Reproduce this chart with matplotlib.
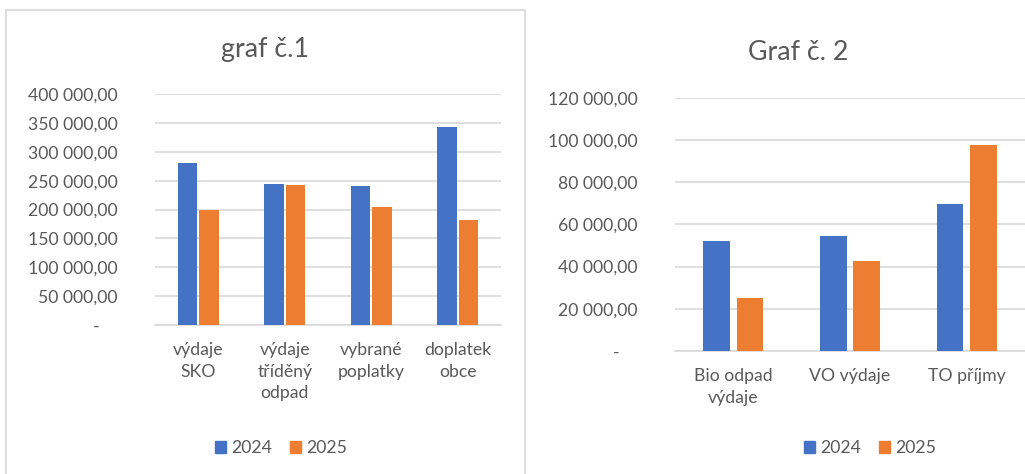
import numpy as np
import matplotlib.pyplot as plt
from matplotlib.ticker import FuncFormatter
from matplotlib.patches import Rectangle, Patch

# data
cats1 = ['výdaje\nSKO', 'výdaje\ntříděný\nodpad', 'vybrané\npoplatky', 'doplatek\nobce']
v1_2024 = [280500, 244000, 241000, 343000]
v1_2025 = [199000, 243000, 205000, 181000]

cats2 = ['Bio odpad\nvýdaje', 'VO výdaje', 'TO příjmy']
v2_2024 = [52000, 54300, 69500]
v2_2025 = [25000, 42500, 97600]

years = ['2024', '2025']

BLUE = '#4472C4'
ORANGE = '#ED7D31'
TXT = '#595959'
GRID = '#D9D9D9'

plt.rcParams['font.family'] = ['Lato', 'DejaVu Sans']

W, H = 1025, 474
fig = plt.figure(figsize=(W / 100, H / 100), dpi=100)


def px_axes(x0, y0, x1, y1):
    # pixel box (top-left origin) -> figure axes
    return fig.add_axes([x0 / W, 1 - y1 / H, (x1 - x0) / W, (y1 - y0) / H])


def fmt(v, pos):
    if v == 0:
        return '-    '
    s = f'{v:,.2f}'.replace(',', ' ').replace('.', ',')
    return s


def bars(ax, cats, a, b, width, off, ymax, step):
    x = np.arange(len(cats))
    ax.bar(x - off, a, width, color=BLUE, zorder=3)
    ax.bar(x + off, b, width, color=ORANGE, zorder=3)
    ax.set_xlim(-0.5, len(cats) - 0.5)
    ax.set_ylim(0, ymax)
    ax.set_yticks(np.arange(0, ymax + 1, step))
    ax.yaxis.set_major_formatter(FuncFormatter(fmt))
    ax.grid(axis='y', color=GRID, linewidth=1.2, zorder=0)
    ax.set_xticks(x)
    ax.set_xticklabels(cats, linespacing=1.45)
    for s in ['top', 'right', 'left']:
        ax.spines[s].set_visible(False)
    ax.spines['bottom'].set_color(GRID)
    ax.spines['bottom'].set_linewidth(1.2)
    ax.tick_params(axis='both', length=0, labelsize=12.7, labelcolor=TXT)
    ax.tick_params(axis='y', pad=27)
    ax.tick_params(axis='x', pad=12)


ax1 = px_axes(155, 94, 501, 325)
bars(ax1, cats1, v1_2024, v1_2025, 0.225, 0.125, 400000, 50000)
ax2 = px_axes(675, 97.7, 1025, 351)
bars(ax2, cats2, v2_2024, v2_2025, 0.23, 0.143, 120000, 20000)

fig.text(265 / W, 1 - 50 / H, 'graf č.1', ha='center', va='center', fontsize=19.3, color=TXT)
fig.text(798 / W, 1 - 53 / H, 'Graf č. 2', ha='center', va='center', fontsize=19.3, color=TXT)

handles = [Patch(color=BLUE), Patch(color=ORANGE)]
for cx in [281, 870]:
    fig.legend(handles, years, loc='center', bbox_to_anchor=(cx / W, 1 - 448 / H), ncol=2,
               frameon=False, fontsize=12.7, labelcolor=TXT, handlelength=0.65, handleheight=0.65,
               handletextpad=0.3, columnspacing=1.0)

# chart frame of the left chart
fig.patches.append(Rectangle((6 / W, -0.01), (525 - 6) / W, 1 - 10 / H + 0.01,
                             transform=fig.transFigure, fill=False, edgecolor=GRID, linewidth=1.2))

fig.savefig('out.png', dpi=100)
